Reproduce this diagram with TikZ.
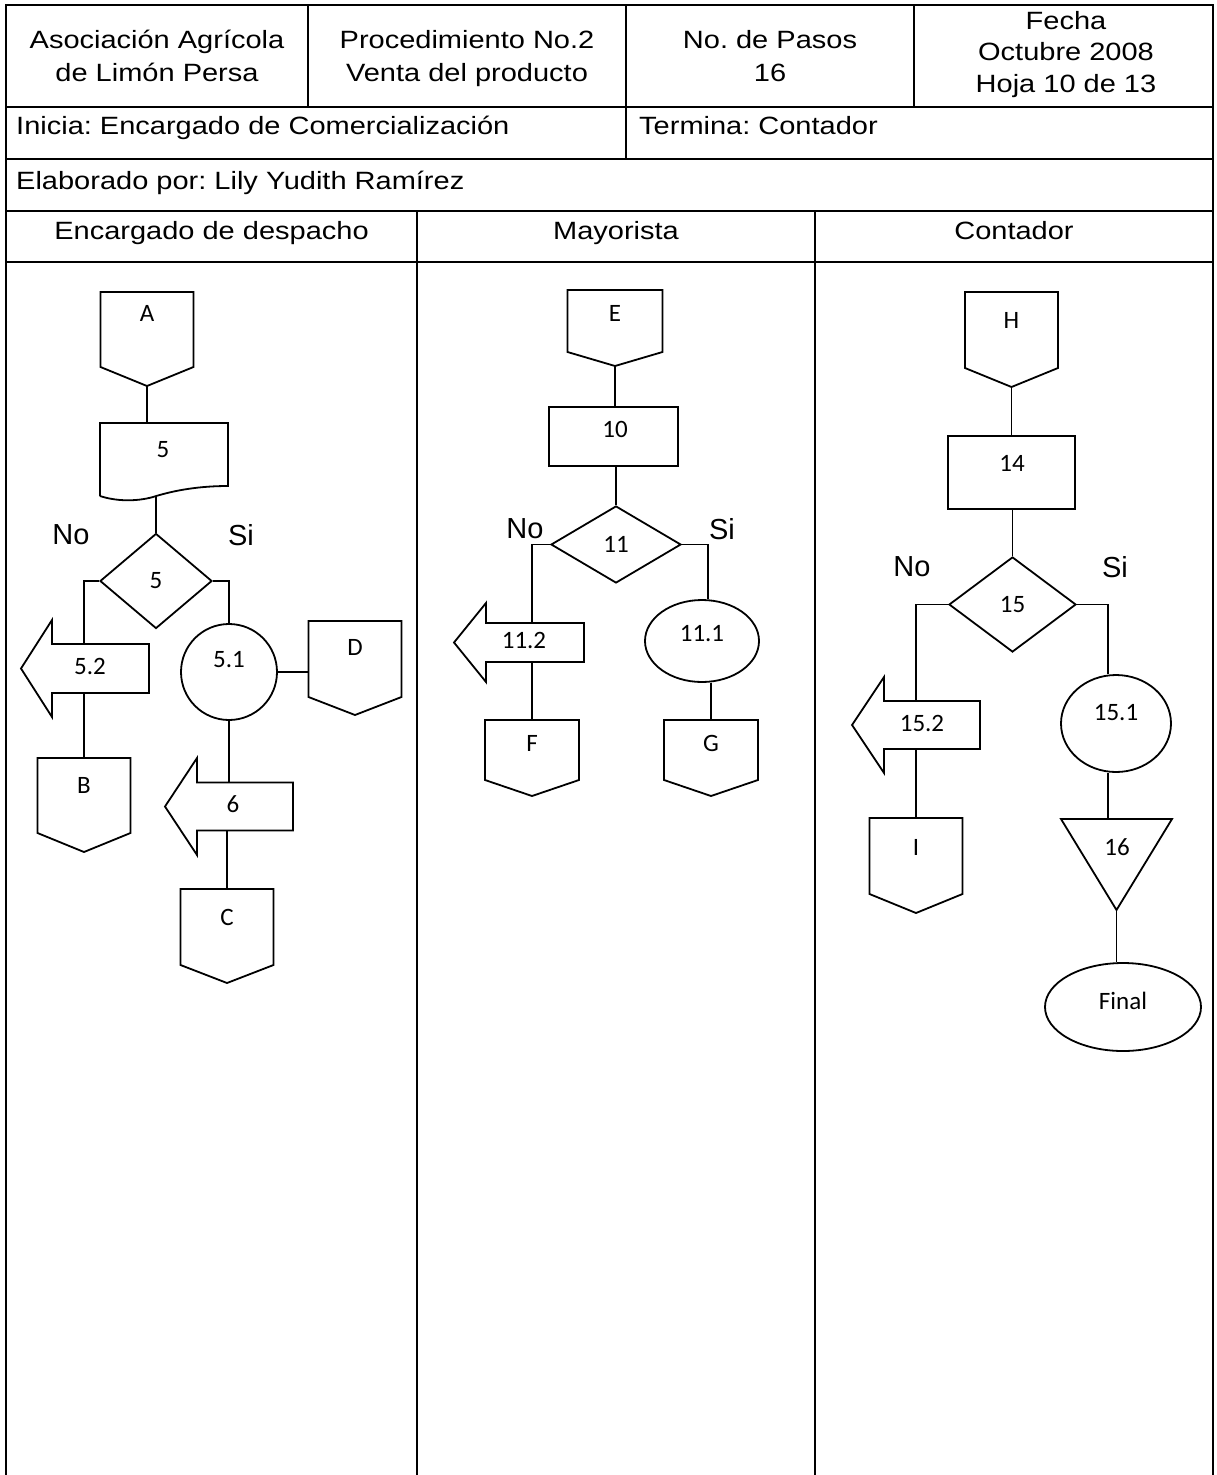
\documentclass[tikz,border=0pt]{standalone}
\usepackage{fontspec}
\usepackage{graphicx}
\setmainfont{Liberation Sans}
\newfontfamily\carl{Carlito}
\usetikzlibrary{shapes.geometric,calc}
\frenchspacing

% fonts
\newcommand\hdrfont{\fontsize{25}{33}\selectfont}
\newcommand\lblfont{\carl\fontsize{25}{30}\selectfont}
\newcommand\ynfont{\fontsize{29}{34}\selectfont}
\newcommand\hs[1]{\scalebox{1.16}[1]{#1}}

\tikzset{
  tbl/.style={line width=2.2pt},
  shp/.style={draw, line width=1.8pt},
  cnx/.style={line width=1.8pt},
  hold/.style={inner sep=0pt, outer sep=0pt, draw=none, rectangle},
  lbl/.style={font=\lblfont, inner sep=0pt},
  yn/.style={font=\ynfont, inner sep=0pt},
  hdr/.style={font=\hdrfont, inner sep=0pt, align=center},
}

% off-page connector: name, centre x, top y, width, side height, tip depth, text, text y
\newcommand\offpg[8]{%
  \node[hold, minimum width=#4, minimum height=#5+#6, anchor=north] (#1) at (#2,#3) {};
  \draw[shp] (#1.north west) -- (#1.north east) -- ++(0,#5) -- (#1.south)
     -- ([yshift=#6pt]#1.south west) -- cycle;
  \node[lbl] (#1-t) at (#2,#8) {#7};
}
% left block arrow: name, tip x, head base x, right x, axis y, head half, body half, text, text x
\newcommand\larrow[9]{%
  \node[hold, minimum width=#4-#3, minimum height=2*#7, anchor=west] (#1) at (#3,#5) {};
  \draw[shp] (#1.north east) -- (#1.north west) -- ([yshift=#6pt-#7pt]#1.north west)
     -- (#2,#5) -- ([yshift=#7pt-#6pt]#1.south west) -- (#1.south west)
     -- (#1.south east) -- cycle;
  \node[lbl] (#1-t) at (#9,#5-2) {#8};
}

\begin{document}
\begin{tikzpicture}[x=1pt,y=-1pt]
\useasboundingbox (0,0) rectangle (1217,1475);

% ---------- header table ----------
\draw[tbl] (6,1475) -- (6,5) -- (1213,5) -- (1213,1475);
\foreach \yy in {107,159,211,262} \draw[tbl] (6,\yy) -- (1213,\yy);
\draw[tbl] (308,5) -- (308,107);
\draw[tbl] (626,5) -- (626,159);
\draw[tbl] (914,5) -- (914,107);
\draw[tbl] (417,211) -- (417,1475);
\draw[tbl] (815,211) -- (815,1475);

% multi-line cells: the base anchor sits on the last line
\node[hdr, anchor=base] (h1) at (157,81) {\hs{Asociación Agrícola}\\\hs{de Limón Persa}};
\node[hdr, anchor=base] (h2) at (467,81) {\hs{Procedimiento No.2}\\\hs{Venta del producto}};
\node[hdr, anchor=base] (h3) at (770,81) {\hs{No. de Pasos}\\\hs{16}};
\node[hdr, anchor=base] (h4) at (1066,92) {\hs{Fecha}\\[-1.5pt]\hs{Octubre 2008}\\[-1.5pt]\hs{Hoja 10 de 13}};
\node[hdr, anchor=base west] (h5) at (16,134) {\hs{Inicia: Encargado de Comercialización}};
\node[hdr, anchor=base west] (h6) at (639,134) {\hs{Termina: Contador}};
\node[hdr, anchor=base west] (h7) at (16,189) {\hs{Elaborado por: Lily Yudith Ramírez}};
\node[hdr, anchor=base] (l1) at (211.5,239) {\hs{Encargado de despacho}};
\node[hdr, anchor=base] (l2) at (616,239) {\hs{Mayorista}};
\node[hdr, anchor=base] (l3) at (1014,239) {\hs{Contador}};

% ---------- lane 1: Encargado de despacho ----------
\offpg{offA}{147}{292}{93}{75}{19}{A}{313}
\node[hold, minimum width=128, minimum height=73, anchor=north west] (S5) at (100,423) {};
\draw[shp] (100,496) -- (100,423) -- (228,423) -- (228,486)
   .. controls (200,486) and (175,490) .. (153,497)
   .. controls (135,502) and (115,501) .. (100,496);
\node[lbl] (S5-t) at (163,450) {5};
\node[shp, diamond, lbl, minimum width=112, minimum height=95] (D5) at (156,581) {5};
\node[yn] (no5) at (71,535) {No};
\node[yn] (si5) at (241,535) {Si};
\larrow{A52}{21}{52}{149}{668.5}{48.5}{24.5}{5.2}{90}
\offpg{offB}{84}{758}{93}{75}{19}{B}{785}
\node[shp, circle, minimum size=96, inner sep=0pt] (C51) at (229,672) {};
\node[lbl] (C51-t) at (229,660) {5.1};
\offpg{offD}{355}{621}{93}{76}{18}{D}{647}
\larrow{A6}{165}{197}{293}{806.5}{48.5}{24}{6}{233}
\offpg{offC}{227}{889}{93}{76}{18}{C}{917}

\draw[cnx] (offA.south) -- (offA.south |- S5.north);
\draw[cnx] (D5.north |- S5.south) -- (D5.north);
\draw[cnx] (D5.west) -| (offB.north |- A52.north);
\draw[cnx] (offB.north |- A52.south) -- (offB.north);
\draw[cnx] (D5.east) -| (C51.north);
\draw[cnx] (C51.east) -- (C51.east -| offD.west);
\draw[cnx] (C51.south) -- (C51.south |- A6.north);
\draw[cnx] (offC.north |- A6.south) -- (offC.north);

% ---------- lane 2: Mayorista ----------
\offpg{offE}{615}{290}{95}{62}{14}{E}{313}
\node[shp, minimum width=129, minimum height=59, inner sep=0pt] (R10) at (613.5,436.5) {};
\node[lbl] (R10-t) at (615,429) {10};
\node[shp, diamond, lbl, minimum width=130, minimum height=77] (D11) at (616,544.5) {11};
\node[yn] (no11) at (525,529) {No};
\node[yn] (si11) at (722,529) {Si};
\larrow{A112}{454}{486}{584}{642.5}{39.5}{19.5}{11.2}{524}
\offpg{offF}{532}{720}{94}{60}{16}{F}{743}
\node[shp, ellipse, minimum width=114, minimum height=82, inner sep=0pt] (E111) at (702,641) {};
\node[lbl] (E111-t) at (702,634) {11.1};
\offpg{offG}{711}{720}{94}{60}{16}{G}{743}
\coordinate (kSi11) at (708,0);

\draw[cnx] (offE.south) -- (offE.south |- R10.north);
\draw[cnx] (D11.north |- R10.south) -- (D11.north);
\draw[cnx] (D11.west) -| (offF.north |- A112.north);
\draw[cnx] (offF.north |- A112.south) -- (offF.north);
\draw[cnx] (D11.east) -| (kSi11 |- E111.north);
\draw[cnx] (offG.north |- E111.south) -- (offG.north);

% ---------- lane 3: Contador ----------
\offpg{offH}{1011.5}{292}{93}{76}{19}{H}{320}
\node[shp, minimum width=127, minimum height=73, inner sep=0pt] (R14) at (1011.5,472.5) {};
\node[lbl] (R14-t) at (1012,463) {14};
\node[shp, diamond, lbl, minimum width=127, minimum height=95] (D15) at (1012.5,604.5) {15};
\node[yn] (no15) at (912,567) {No};
\node[yn] (si15) at (1115,567) {Si};
\larrow{A152}{852}{884}{980}{725}{48}{24}{15.2}{922}
\offpg{offI}{916}{818}{93}{76}{19}{I}{847}
\node[shp, ellipse, minimum width=110, minimum height=97, inner sep=0pt] (E151) at (1116,723.5) {};
\node[lbl] (E151-t) at (1116,713) {15.1};
\node[hold, minimum width=111, minimum height=91, anchor=north] (T16) at (1116.5,819) {};
\draw[shp] (T16.north west) -- (T16.north east) -- (T16.south) -- cycle;
\node[lbl] (T16-t) at (1117,847) {16};
\node[shp, ellipse, minimum width=156, minimum height=88, inner sep=0pt] (Fin) at (1123,1007) {};
\node[lbl] (Fin-t) at (1123,1001) {Final};
\coordinate (kSi15) at (1108,0);

\draw[cnx] (offH.south) -- (offH.south |- R14.north);
\draw[cnx] (D15.north |- R14.south) -- (D15.north);
\draw[cnx] (D15.west) -| (offI.north |- A152.north);
\draw[cnx] (offI.north |- A152.south) -- (offI.north);
\draw[cnx] (D15.east) -| (kSi15 |- E151.north);
\draw[cnx] (kSi15 |- E151.south) -- (kSi15 |- T16.north);
\draw[cnx] (T16.south) -- (T16.south |- Fin.north);
\end{tikzpicture}
\end{document}
